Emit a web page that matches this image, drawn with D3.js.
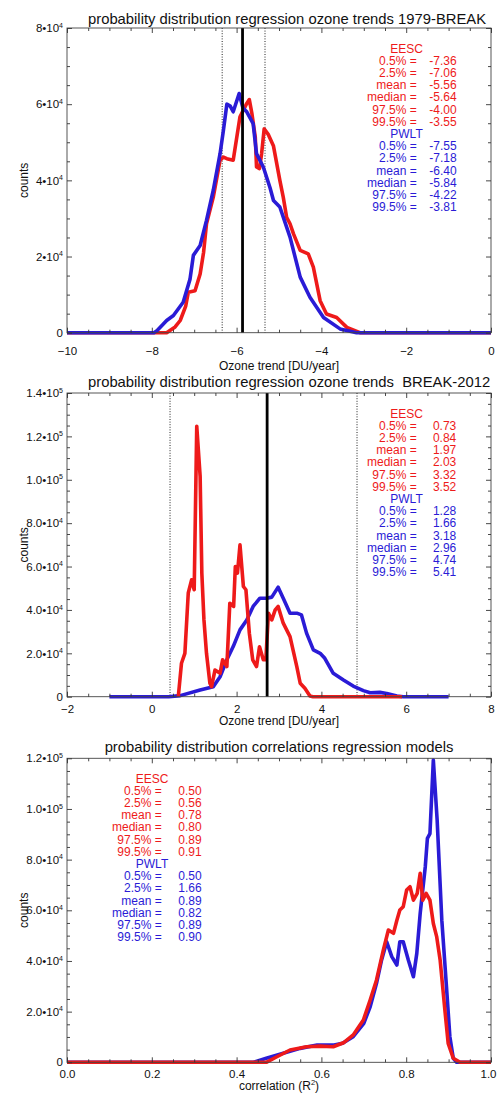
<!DOCTYPE html>
<html><head><meta charset="utf-8">
<script src="https://cdn.jsdelivr.net/npm/d3@7"></script>
<style>
body{margin:0;background:#fff;}
svg{display:block;font-family:"Liberation Sans",Arial,Helvetica,sans-serif;}
</style>
</head><body>
<svg id="chart" width="497" height="1093"></svg>
<script>
// ---------- data ----------
const statLabels = ["0.5% =", "2.5% =", "mean =", "median =", "97.5% =", "99.5% ="];
const seriesNames = ["EESC", "PWLT"];

// panel 1: trends 1979-BREAK
const p1Title = "probability distribution regression ozone trends 1979-BREAK";
const p1XLabel = "Ozone trend [DU/year]";
const p1XTicks = [-10, -8, -6, -4, -2, 0];
const p1YTicks = [0, 20000, 40000, 60000, 80000];
const p1YTickLabels = ["0", "2•10^4", "4•10^4", "6•10^4", "8•10^4"];
const p1EescStats = ["-7.36", "-7.06", "-5.56", "-5.64", "-4.00", "-3.55"];
const p1PwltStats = ["-7.55", "-7.18", "-6.40", "-5.84", "-4.22", "-3.81"];
const p1SolidLines = [-5.86];
const p1DottedLines = [-6.34, -5.33];
const p1Eesc = [[-10,0],[-7.65,0],[-7.45,1500],[-7.33,3200],[-7.2,7000],[-7.14,10600],[-6.98,11000],[-6.86,15400],[-6.78,21000],[-6.71,28600],[-6.55,35600],[-6.39,45300],[-6.31,46100],[-6.23,45700],[-6.08,45300],[-5.92,56700],[-5.76,60200],[-5.70,61200],[-5.64,57600],[-5.56,51400],[-5.53,43500],[-5.46,43100],[-5.41,47000],[-5.35,53500],[-5.25,52000],[-5.13,49000],[-4.98,40000],[-4.90,35600],[-4.82,30300],[-4.74,28600],[-4.66,26000],[-4.50,21600],[-4.31,20700],[-4.19,17200],[-4.03,8400],[-3.88,4900],[-3.64,4000],[-3.40,1400],[-3.09,0],[0,0]];
const p1Pwlt = [[-10,0],[-7.95,0],[-7.88,500],[-7.75,2000],[-7.65,3200],[-7.49,4500],[-7.26,8000],[-7.1,14000],[-7.02,20300],[-6.86,22900],[-6.71,29500],[-6.55,37400],[-6.39,47000],[-6.31,53200],[-6.23,60000],[-6.15,59500],[-6.08,58000],[-5.94,62800],[-5.85,59000],[-5.76,58000],[-5.61,54900],[-5.53,47000],[-5.37,43500],[-5.21,38000],[-5.13,34700],[-4.98,33000],[-4.82,27700],[-4.74,25100],[-4.58,18100],[-4.50,14600],[-4.27,9300],[-3.95,4000],[-3.56,1000],[-3.17,0],[0,0]];

// panel 2: trends BREAK-2012
const p2Title = "probability distribution regression ozone trends  BREAK-2012";
const p2XLabel = "Ozone trend [DU/year]";
const p2XTicks = [-2, 0, 2, 4, 6, 8];
const p2YTicks = [0, 20000, 40000, 60000, 80000, 100000, 120000, 140000];
const p2YTickLabels = ["0", "2.0•10^4", "4.0•10^4", "6.0•10^4", "8.0•10^4", "1.0•10^5", "1.2•10^5", "1.4•10^5"];
const p2EescStats = ["0.73", "0.84", "1.97", "2.03", "3.32", "3.52"];
const p2PwltStats = ["1.28", "1.66", "3.18", "2.96", "4.74", "5.41"];
const p2SolidLines = [2.72];
const p2DottedLines = [0.43, 4.84];
const p2Eesc = [[0.625,0],[0.70,15400],[0.78,20000],[0.86,47800],[0.94,53900],[1.0,49300],[1.06,124700],[1.14,101600],[1.18,57000],[1.23,35400],[1.29,20000],[1.37,6200],[1.41,4600],[1.49,12300],[1.61,10800],[1.67,17000],[1.77,13900],[1.84,43100],[1.93,41600],[1.97,60000],[2.02,57000],[2.08,70000],[2.16,50800],[2.22,49300],[2.30,29300],[2.38,17000],[2.47,13900],[2.54,23000],[2.63,17000],[2.69,17000],[2.75,38500],[2.83,35400],[2.91,40000],[2.98,41600],[3.10,33900],[3.26,27700],[3.42,13900],[3.50,6200],[3.61,3900],[3.73,300],[3.8,0],[5.9,0]];
const p2Pwlt = [[-1.0,0],[0.4,0],[0.67,500],[1.14,3100],[1.45,4600],[1.61,9200],[1.77,17000],[1.92,23100],[2.08,30800],[2.24,35400],[2.39,41600],[2.55,45400],[2.71,45400],[2.83,45900],[2.98,50500],[3.10,45400],[3.26,38500],[3.42,38500],[3.53,37700],[3.65,29300],[3.81,21600],[3.97,20000],[4.08,17700],[4.28,10800],[4.52,7700],[4.75,4900],[4.99,2800],[5.15,1800],[5.38,2000],[5.54,1500],[5.78,300],[5.93,0],[7.0,0]];

// panel 3: correlations
const p3Title = "probability distribution correlations regression models";
const p3XLabel = "correlation (R^2)";
const p3XTicks = [0.0, 0.2, 0.4, 0.6, 0.8, 1.0];
const p3YTicks = [0, 20000, 40000, 60000, 80000, 100000, 120000];
const p3YTickLabels = ["0", "2.0•10^4", "4.0•10^4", "6.0•10^4", "8.0•10^4", "1.0•10^5", "1.2•10^5"];
const p3EescStats = ["0.50", "0.56", "0.78", "0.80", "0.89", "0.91"];
const p3PwltStats = ["0.50", "1.66", "0.89", "0.82", "0.89", "0.90"];
const p3Pwlt = [[0,0],[0.44,0],[0.47,1600],[0.51,3550],[0.55,5500],[0.59,6800],[0.63,6800],[0.65,7500],[0.675,10100],[0.70,15400],[0.715,21900],[0.73,31200],[0.742,40400],[0.754,47600],[0.766,41700],[0.778,38400],[0.785,47600],[0.793,47600],[0.805,40400],[0.817,33800],[0.825,43000],[0.833,58800],[0.845,77200],[0.85,88400],[0.856,90300],[0.864,119300],[0.873,95600],[0.884,56100],[0.895,29800],[0.903,10100],[0.911,1600],[0.919,0],[1.0,0]];
const p3Eesc = [[0,0],[0.47,0],[0.495,2200],[0.526,4850],[0.565,6150],[0.597,6400],[0.628,6150],[0.652,7700],[0.675,10800],[0.699,16700],[0.715,24600],[0.73,32500],[0.746,44300],[0.758,52200],[0.77,50900],[0.778,56100],[0.785,60100],[0.793,61400],[0.801,68000],[0.809,69300],[0.817,64000],[0.826,66700],[0.833,74600],[0.839,64000],[0.847,66700],[0.856,64000],[0.864,54800],[0.872,49500],[0.88,40400],[0.892,19300],[0.899,7500],[0.911,1600],[0.927,0],[1.0,0]];

// ---------- drawing ----------
const RED = "#ee1a1a", BLUE = "#2a1bd6";
const svg = d3.select("#chart");

const panels = [
  {top: 28, bottom: 332.7, xDom: [-10, 0], yDom: [0, 80000], xTicks: p1XTicks, xMinor: 0.5, yTicks: p1YTicks, yMinor: 5000,
   yLabels: p1YTickLabels, xFmt: d => d3.format("d")(d), title: p1Title, titleX: 88, titleAnchor: "start", titleY: 23.5,
   xLabel: p1XLabel, xLabelY: 370, xPad: 14, legX: 406.5, legLabX: 416.7, legValX: 456.7, legTop: 48.3,
   stats: [p1EescStats, p1PwltStats], solid: p1SolidLines, dotted: p1DottedLines,
   curves: [[p1Eesc, RED], [p1Pwlt, BLUE]]},
  {top: 393, bottom: 696.7, xDom: [-2, 8], yDom: [0, 140000], xTicks: p2XTicks, xMinor: 0.5, yTicks: p2YTicks, yMinor: 5000,
   yLabels: p2YTickLabels, xFmt: d => d3.format("d")(d), title: p2Title, titleX: 88, titleAnchor: "start", titleY: 386.5,
   xLabel: p2XLabel, xLabelY: 725, xPad: 8, legX: 406.5, legLabX: 416.7, legValX: 456.3, legTop: 413.3,
   stats: [p2EescStats, p2PwltStats], solid: p2SolidLines, dotted: p2DottedLines,
   curves: [[p2Pwlt, BLUE], [p2Eesc, RED]]},
  {top: 758.3, bottom: 1062.3, xDom: [0, 1], yDom: [0, 120000], xTicks: p3XTicks, xMinor: 0.05, yTicks: p3YTicks, yMinor: 5000,
   yLabels: p3YTickLabels, xFmt: d => d3.format(".1f")(d), title: p3Title, titleX: 279, titleAnchor: "middle", titleY: 751.5,
   xLabel: p3XLabel, xLabelY: 1090, xPad: 8, legX: 152, legLabX: 161.7, legValX: 201.7, legTop: 778.3,
   stats: [p3EescStats, p3PwltStats], solid: [], dotted: [],
   curves: [[p3Pwlt, BLUE], [p3Eesc, RED]]}
];

const L = 67, R = 491;

function withSup(sel, str, supSize, dy) {
  const parts = str.split("^");
  sel.text(null);
  sel.append("tspan").text(parts[0]);
  if (parts.length > 1) {
    sel.append("tspan").attr("dy", dy).attr("font-size", supSize).text(parts[1]);
  }
}

panels.forEach(p => {
  const x = d3.scaleLinear().domain(p.xDom).range([L, R]);
  const y = d3.scaleLinear().domain(p.yDom).range([p.bottom, p.top]);
  const g = svg.append("g");

  const minorX = d3.range(p.xDom[0], p.xDom[1] + 1e-9, p.xMinor).filter(v => !p.xTicks.some(t => Math.abs(t - v) < 1e-9));
  const minorY = d3.range(p.yDom[0], p.yDom[1] + 1e-9, p.yMinor).filter(v => !p.yTicks.some(t => Math.abs(t - v) < 1e-9));

  const styleAxis = a => {
    a.select(".domain").remove();
    a.selectAll("line").attr("stroke", "#333").attr("stroke-width", 0.9);
  };

  // vertical reference lines
  p.dotted.forEach(v => {
    g.append("line").attr("x1", x(v)).attr("x2", x(v)).attr("y1", p.top).attr("y2", p.bottom)
      .attr("stroke", "#222").attr("stroke-width", 1).attr("stroke-dasharray", "1,1.6");
  });

  // curves
  const line = d3.line().x(d => x(d[0])).y(d => y(d[1]));
  p.curves.forEach(([data, col]) => {
    g.append("path").datum(data).attr("d", line).attr("fill", "none")
      .attr("stroke", col).attr("stroke-width", 3.6).attr("stroke-linejoin", "round").attr("stroke-linecap", "butt");
  });

  p.solid.forEach(v => {
    g.append("line").attr("x1", x(v)).attr("x2", x(v)).attr("y1", p.top).attr("y2", p.bottom)
      .attr("stroke", "#000").attr("stroke-width", 2.8);
  });

  // frame
  g.append("rect").attr("x", L).attr("y", p.top).attr("width", R - L).attr("height", p.bottom - p.top)
    .attr("fill", "none").attr("stroke", "#444").attr("stroke-width", 0.9);

  // bottom axis (major with labels)
  const bx = g.append("g").attr("transform", `translate(0,${p.bottom})`)
    .call(d3.axisBottom(x).tickValues(p.xTicks).tickSize(-5).tickPadding(p.xPad).tickFormat(p.xFmt));
  styleAxis(bx);
  bx.selectAll("text").attr("font-size", 11.5).attr("fill", "#111").attr("font-family", null)
    .attr("dx", d => (x(d) + p.xFmt(d).length * 3.2 > 496) ? -3 : 0);
  const bxm = g.append("g").attr("transform", `translate(0,${p.bottom})`)
    .call(d3.axisBottom(x).tickValues(minorX).tickSize(-3).tickFormat(""));
  styleAxis(bxm);
  // top axis
  const tx = g.append("g").attr("transform", `translate(0,${p.top})`)
    .call(d3.axisTop(x).tickValues(p.xTicks).tickSize(-5).tickFormat(""));
  styleAxis(tx);
  const txm = g.append("g").attr("transform", `translate(0,${p.top})`)
    .call(d3.axisTop(x).tickValues(minorX).tickSize(-3).tickFormat(""));
  styleAxis(txm);

  // left axis
  const ly = g.append("g").attr("transform", `translate(${L},0)`)
    .call(d3.axisLeft(y).tickValues(p.yTicks).tickSize(-5).tickPadding(4).tickFormat((d, i) => p.yLabels[i]));
  styleAxis(ly);
  ly.selectAll("text").attr("font-size", 11.5).attr("fill", "#111").attr("font-family", null)
    .each(function(d, i) { withSup(d3.select(this), p.yLabels[i], 7, -4.5); });
  const lym = g.append("g").attr("transform", `translate(${L},0)`)
    .call(d3.axisLeft(y).tickValues(minorY).tickSize(-3).tickFormat(""));
  styleAxis(lym);
  // right axis
  const ry = g.append("g").attr("transform", `translate(${R},0)`)
    .call(d3.axisRight(y).tickValues(p.yTicks).tickSize(-5).tickFormat(""));
  styleAxis(ry);
  const rym = g.append("g").attr("transform", `translate(${R},0)`)
    .call(d3.axisRight(y).tickValues(minorY).tickSize(-3).tickFormat(""));
  styleAxis(rym);

  // title
  g.append("text").attr("x", p.titleX).attr("y", p.titleY).attr("text-anchor", p.titleAnchor)
    .attr("font-size", 14.8).attr("fill", "#111").style("white-space", "pre").text(p.title);

  // x label
  const xl = g.append("text").attr("x", (L + R) / 2).attr("y", p.xLabelY).attr("text-anchor", "middle")
    .attr("font-size", 12).attr("fill", "#111");
  if (p.xLabel.includes("^")) {
    const parts = p.xLabel.split("^");
    xl.append("tspan").text(parts[0]);
    xl.append("tspan").attr("dy", -5).attr("font-size", 7.5).text(parts[1][0]);
    xl.append("tspan").attr("dy", 5).text(parts[1].slice(1));
  } else {
    xl.text(p.xLabel);
  }

  // y label
  g.append("text").attr("transform", `translate(28,${(p.top + p.bottom) / 2}) rotate(-90)`)
    .attr("text-anchor", "middle").attr("font-size", 12).attr("fill", "#111").text("counts");

  // legend
  const step = 12.2;
  [0, 1].forEach(s => {
    const col = s === 0 ? RED : BLUE;
    const base = p.legTop + s * 7 * step;
    g.append("text").attr("x", p.legX).attr("y", base + 4.3).attr("text-anchor", "middle")
      .attr("font-size", 12).attr("fill", col).text(seriesNames[s]);
    statLabels.forEach((lab, i) => {
      const yy = base + (i + 1) * step + 4.3;
      g.append("text").attr("x", p.legLabX).attr("y", yy).attr("text-anchor", "end")
        .attr("font-size", 12).attr("fill", col).text(lab);
      g.append("text").attr("x", p.legValX).attr("y", yy).attr("text-anchor", "end")
        .attr("font-size", 12).attr("fill", col).text(p.stats[s][i]);
    });
  });
});
</script>
</body></html>
